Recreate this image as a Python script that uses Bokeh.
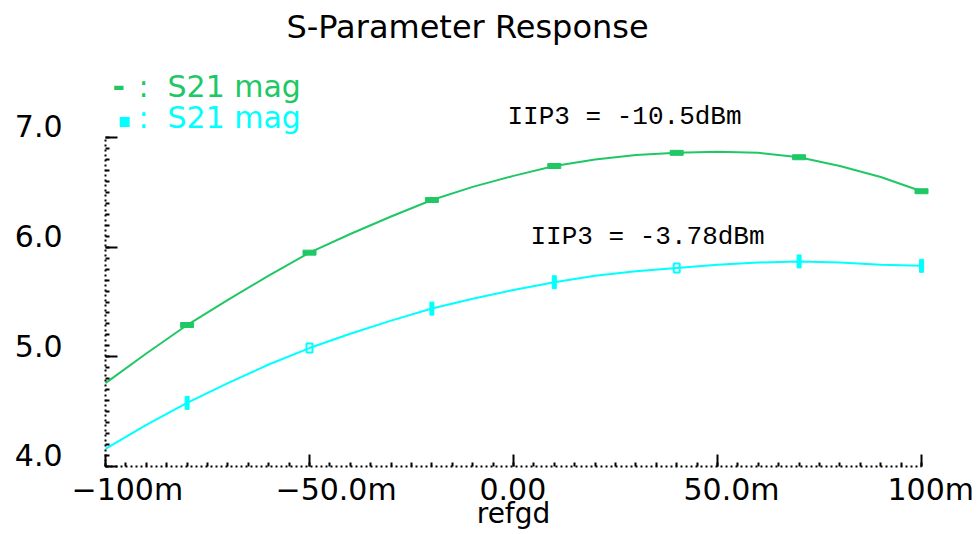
import numpy as np
from bokeh.plotting import figure
from bokeh.models import Label, FixedTicker, Range1d, LinearAxis
from bokeh.embed import file_html
from bokeh.resources import INLINE

# ---- data ----
refgd = [-0.10, -0.09, -0.08, -0.07, -0.06, -0.05, -0.04, -0.03, -0.02, -0.01, 0.00,
         0.01, 0.02, 0.03, 0.04, 0.05, 0.06, 0.07, 0.08, 0.09, 0.10]
s21_green = [4.76, 5.03, 5.29, 5.52, 5.74, 5.95, 6.12, 6.28, 6.43, 6.55, 6.65,
             6.74, 6.80, 6.84, 6.86, 6.87, 6.86, 6.82, 6.74, 6.64, 6.51]
s21_cyan = [4.16, 4.38, 4.58, 4.76, 4.93, 5.08, 5.21, 5.33, 5.44, 5.53, 5.61,
            5.68, 5.74, 5.78, 5.81, 5.84, 5.86, 5.87, 5.86, 5.84, 5.83]
x_ticks = [-0.1, -0.05, 0.0, 0.05, 0.1]
x_tick_labels = ["\u2212100m", "\u221250.0m", "0.00", "50.0m", "100m"]
y_ticks = [4.0, 5.0, 6.0, 7.0]
y_tick_labels = ["4.0", "5.0", "6.0", "7.0"]
title_text = "S-Parameter Response"
legend_text = "S21 mag"
iip3_green = "IIP3 = -10.5dBm"
iip3_cyan = "IIP3 = -3.78dBm"
x_label = "refgd"

GREEN = "#20c865"
CYAN = "#00ffff"
W, H = 976, 532

# axis anchors in canvas pixels (layout)
X0_PX, X1_PX = 105, 921     # x = -0.1 .. 0.1
Y1_PX, Y0_PX = 137, 466     # y = 7.0 .. 4.0
kx = (x_ticks[-1] - x_ticks[0]) / (X1_PX - X0_PX)
ky = (y_ticks[-1] - y_ticks[0]) / (Y0_PX - Y1_PX)
x_start = x_ticks[0] - X0_PX * kx
x_end = x_ticks[-1] + (W - X1_PX) * kx
y_end = y_ticks[-1] + Y1_PX * ky
y_start = y_ticks[0] - (H - Y0_PX) * ky

def dx(px):
    return x_start + px * kx

def dy(py):
    return y_end - py * ky

p = figure(width=W, height=H, output_backend="svg", toolbar_location=None,
           x_range=Range1d(x_start, x_end), y_range=Range1d(y_start, y_end),
           x_axis_location=None, y_axis_location=None,
           min_border_left=0, min_border_right=0, min_border_top=0,
           min_border_bottom=0)
p.outline_line_color = None
p.grid.visible = False
p.background_fill_color = "white"
p.border_fill_color = "white"

xb = (x_ticks[0], x_ticks[-1])
yb = (y_ticks[0], y_ticks[-1])

# dotted axis lines with minor ticks
ax_x = LinearAxis(fixed_location=y_ticks[0], bounds=xb,
                  ticker=FixedTicker(ticks=[], minor_ticks=list(np.round(np.linspace(-0.1, 0.1, 41), 4))))
ax_y = LinearAxis(fixed_location=x_ticks[0], bounds=yb,
                  ticker=FixedTicker(ticks=[], minor_ticks=list(np.round(np.linspace(4.0, 7.0, 31), 3))))
for ax in (ax_x, ax_y):
    ax.axis_line_color = "black"
    ax.axis_line_width = 2
    ax.axis_line_dash = "2 3"
    ax.minor_tick_in = 4
    ax.minor_tick_out = 0
    ax.minor_tick_line_width = 2
    ax.major_tick_in = 0
    ax.major_tick_out = 0
# major ticks (drawn as the minor ticks of a second axis without line)
mx_x = LinearAxis(fixed_location=y_ticks[0], bounds=xb,
                  ticker=FixedTicker(ticks=[], minor_ticks=x_ticks))
mx_y = LinearAxis(fixed_location=x_ticks[0], bounds=yb,
                  ticker=FixedTicker(ticks=[], minor_ticks=y_ticks))
for ax in (mx_x, mx_y):
    ax.axis_line_color = None
    ax.minor_tick_in = 12
    ax.minor_tick_out = 0
    ax.minor_tick_line_width = 2
    ax.minor_tick_line_color = "black"
    ax.major_tick_in = 0
    ax.major_tick_out = 0
p.add_layout(ax_x, "below")
p.add_layout(mx_x, "below")
p.add_layout(ax_y, "left")
p.add_layout(mx_y, "left")

# curves
p.line(refgd, s21_green, line_color=GREEN, line_width=2)
p.line(refgd, s21_cyan, line_color=CYAN, line_width=2)

# markers (every third sample)
mx = refgd[2::3]
p.rect(mx, s21_green[2::3], width=13, height=5, width_units="screen",
       height_units="screen", fill_color=GREEN, line_color=GREEN)
cy = s21_cyan[2::3]
bar_idx = [0, 2, 3, 5, 6]
sq_idx = [1, 4]
p.rect([mx[i] for i in bar_idx], [cy[i] for i in bar_idx], width=4, height=13,
       width_units="screen", height_units="screen", fill_color=CYAN, line_color=CYAN)
p.rect([mx[i] for i in sq_idx], [cy[i] for i in sq_idx], width=6, height=9,
       width_units="screen", height_units="screen", fill_color=None,
       line_color=CYAN, line_width=2)

# texts (baseline given in canvas px; Bokeh draws the alphabetic baseline
# about 0.37em lower than asked, so compensate)
def lab(x, base_py, text, color="black", font="DejaVu Sans", size=29,
        align="left", style="normal", x_offset=0, k=0.37):
    y = dy(base_py - k * size)
    p.add_layout(Label(x=x, y=y, text=text, text_color=color, text_font=font,
                       text_font_size=f"{size}px", text_align=align, x_offset=x_offset,
                       text_baseline="alphabetic", text_font_style=style))

def py(v):
    return (y_end - v) / ky

# tick labels
for t, s in zip(y_ticks, y_tick_labels):
    lab(x_ticks[0], py(t), s, size=30, align="right", x_offset=-43)
for t, s in zip(x_ticks, x_tick_labels):
    lab(t, 500, s, size=30, align="left", x_offset=-34)
lab(dx(513), 523, x_label, size=28, align="center")

lab(dx(467), 38, title_text, size=32, align="center")
# legend
lab(dx(112), 97, "-", color=GREEN, size=30, style="bold")
lab(dx(138), 97, ":", color=GREEN, size=30)
lab(dx(167), 97, legend_text, color=GREEN, size=30)
lab(dx(117), 127, "\u25aa", color=CYAN, size=20)
lab(dx(138), 128, ":", color=CYAN, size=30)
lab(dx(167), 128, legend_text, color=CYAN, size=30)
# annotations
lab(dx(507), 125, iip3_green, font="Liberation Mono", size=26, k=0.31)
lab(dx(530), 245, iip3_cyan, font="Liberation Mono", size=26, k=0.31)

open("out.html", "w").write(file_html(p, INLINE))
